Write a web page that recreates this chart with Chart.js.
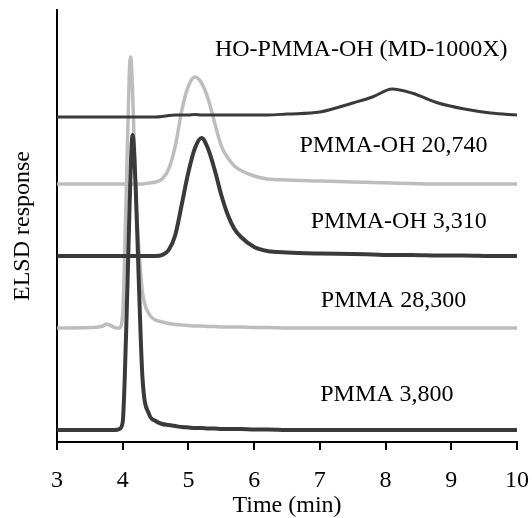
<!DOCTYPE html>
<html lang="en">
<head>
  <meta charset="UTF-8">
  <title>ELSD traces</title>
  <script src="https://cdn.jsdelivr.net/npm/chart.js@4.4.0/dist/chart.umd.min.js"></script>
  <style>
    body { margin: 0; background: #fff; }
    canvas { display: block; }
  </style>
</head>
<body>
  <canvas id="chart" width="532" height="518"></canvas>
  <script>
    // elution time (min), shared by all traces
    const times = [3.0, 3.5, 3.7, 3.75, 3.8, 3.9, 3.95, 4.0, 4.05, 4.1, 4.12, 4.15, 4.2, 4.25, 4.3, 4.4, 4.5, 4.6, 4.7, 4.8,
      4.9, 5.0, 5.1, 5.2, 5.3, 5.4, 5.5, 5.6, 5.7, 5.8, 6.0, 6.2, 6.5, 7.0, 7.5, 7.8, 8.1, 8.4, 8.8, 9.2, 9.6, 10];

    // detector response, traces already offset from each other
    const pmma3800 = [12, 12, 12, 12, 12, 12, 13, 20, 105, 225, 270, 307, 250, 150, 65, 28, 21, 18, 17, 16,
      15, 14.5, 14, 14, 13.5, 13.5, 13, 13, 13, 13, 12.5, 12.5, 12, 12, 12, 12, 12, 12, 12, 12, 12, 12];
    const pmma28300 = [114, 114.5, 116, 118, 117, 114, 114, 128, 240, 368, 385, 352, 245, 190, 150, 128, 122, 120, 118.5, 117.5,
      117, 116.5, 116, 116, 115.5, 115.5, 115, 115, 115, 115, 114.5, 114.5, 114, 114, 114, 114, 114, 114, 114, 114, 114, 114];
    const pmmaOH3310 = [186, 186, 186, 186, 186, 186, 186, 186, 186, 186, 186, 186, 186, 186, 186, 186, 186, 187, 192, 207,
      238, 270, 294, 304, 293, 272, 247, 227, 213, 205, 195, 191, 189.5, 188.5, 188, 187.5, 187, 187, 186.5, 186.5, 186, 186];
    const pmmaOH20740 = [258, 258, 258, 258, 258, 258, 258, 258, 258, 258, 258, 258, 258, 258, 258, 259, 260, 263, 273, 296,
      332, 356, 365, 359, 343, 319, 296, 284, 276, 271.5, 266, 263, 262, 261, 260, 259.5, 259, 258.5, 258, 258, 258, 258];
    const hoPmmaOH = [325, 325, 325, 325, 325, 325, 325, 325, 325, 325, 325, 325, 325, 325, 325, 325, 325, 325.5, 326.5, 327,
      327, 327, 327.5, 327, 327, 327, 327, 327, 327, 327, 327, 327, 328, 330, 339, 345, 353, 349, 339, 333, 329, 327];

    const xTicks = [3, 4, 5, 6, 7, 8, 9, 10];

    // trace names, written next to each trace
    const traceNames = ['HO-PMMA-OH (MD-1000X)', 'PMMA-OH 20,740', 'PMMA-OH 3,310', 'PMMA 28,300', 'PMMA 3,800'];
    const nameTimes = [7.63, 8.12, 8.2, 8.12, 8.02];
    const nameLevels = [392, 296, 220, 141, 47];

    const DARK = '#3a3a3a';
    const GREY = '#bdbdbd';
    const FONT = 'Liberation Serif, Times New Roman, serif';

    const toPoints = vals => vals.map((v, i) => ({ x: times[i], y: v }));

    // writes the trace names as text on the plot
    const traceLabels = {
      id: 'traceLabels',
      afterDatasetsDraw(chart) {
        const { ctx, scales: { x, y } } = chart;
        ctx.save();
        ctx.font = '24px ' + FONT;
        ctx.fillStyle = '#000';
        ctx.textAlign = 'center';
        ctx.textBaseline = 'middle';
        traceNames.forEach((name, i) => {
          ctx.fillText(name, x.getPixelForValue(nameTimes[i]), y.getPixelForValue(nameLevels[i]));
        });
        ctx.restore();
      }
    };

    const ctx = document.getElementById('chart').getContext('2d');
    new Chart(ctx, {
      type: 'line',
      data: {
        datasets: [
          { label: 'HO-PMMA-OH (MD-1000X)', data: toPoints(hoPmmaOH), borderColor: DARK, borderWidth: 3, order: 1 },
          { label: 'PMMA-OH 3,310', data: toPoints(pmmaOH3310), borderColor: DARK, borderWidth: 4, order: 2 },
          { label: 'PMMA 3,800', data: toPoints(pmma3800), borderColor: DARK, borderWidth: 4, order: 3 },
          { label: 'PMMA-OH 20,740', data: toPoints(pmmaOH20740), borderColor: GREY, borderWidth: 3.5, order: 4 },
          { label: 'PMMA 28,300', data: toPoints(pmma28300), borderColor: GREY, borderWidth: 3.5, order: 5 }
        ]
      },
      options: {
        responsive: false,
        animation: false,
        layout: { padding: { top: 10, right: 15, bottom: 0, left: 0 } },
        elements: {
          point: { radius: 0 },
          line: { cubicInterpolationMode: 'monotone', fill: false, borderCapStyle: 'round', borderJoinStyle: 'round' }
        },
        plugins: {
          legend: { display: false },
          tooltip: { enabled: false }
        },
        scales: {
          x: {
            type: 'linear',
            min: 3,
            max: 10,
            afterBuildTicks: s => { s.ticks = xTicks.map(v => ({ value: v })); },
            afterFit: s => { s.height = 76; s.paddingLeft = 0; s.paddingRight = 0; },
            ticks: { color: '#000', padding: 16, font: { family: FONT, size: 24 } },
            grid: { drawOnChartArea: false, drawTicks: true, tickLength: 8, color: '#000', lineWidth: 2 },
            border: { color: '#000', width: 2 },
            title: { display: true, text: 'Time (min)', color: '#000', padding: 0, font: { family: FONT, size: 24, lineHeight: 1 } }
          },
          y: {
            type: 'linear',
            min: 0,
            max: 432,
            afterFit: s => { s.width = 57; s.paddingTop = 0; s.paddingBottom = 0; },
            ticks: { display: false },
            grid: { display: false },
            border: { color: '#000', width: 2 },
            title: { display: true, text: 'ELSD response', color: '#000', padding: { top: 11, bottom: 0 }, font: { family: FONT, size: 24, lineHeight: 1 } }
          }
        }
      },
      plugins: [traceLabels]
    });
  </script>
</body>
</html>
